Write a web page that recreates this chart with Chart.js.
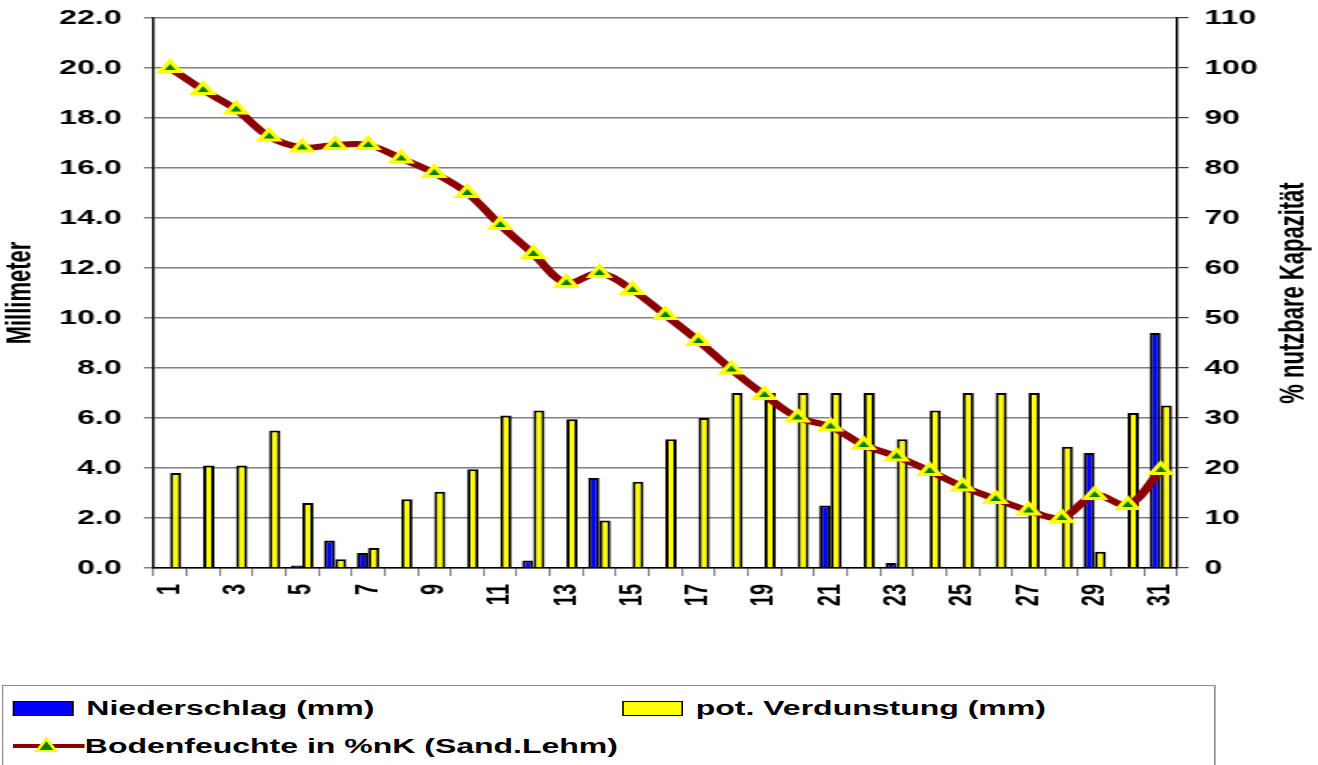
<!DOCTYPE html>
<html>
<head>
<meta charset="utf-8">
<script src="https://cdn.jsdelivr.net/npm/chart.js@4.4.1/dist/chart.umd.min.js"></script>
<style>
  html, body { margin: 0; padding: 0; background: #fff; overflow: hidden; }
  #wrap { position: relative; width: 824px; height: 765px; transform-origin: 0 0; transform: scaleX(1.5995); }
  #legend { position: absolute; left: 1px; top: 685px; width: 757px; height: 100px; border: 1px solid #8a8a8a; background: #fff;
            font-family: "Liberation Sans", Arial, sans-serif; font-weight: bold; font-size: 20px; color: #000; }
  .item { position: absolute; display: flex; align-items: center; height: 24px; white-space: nowrap; }
  .box { display: inline-block; width: 36px; height: 13px; border: 1px solid #000; margin-right: 8px; }
</style>
</head>
<body>
<div id="wrap">
  <canvas id="chartDays" width="824" height="765"></canvas>
  <div id="legend">
    <div class="item" style="left:6px; top:10px;"><span class="box" style="background:#0000ff"></span>Niederschlag (mm)</div>
    <div class="item" style="left:387px; top:10px;"><span class="box" style="background:#ffff00"></span>pot. Verdunstung (mm)</div>
    <div class="item" style="left:6px; top:48px;">
      <svg width="45" height="20">
        <line x1="0" y1="10" x2="45" y2="10" stroke="#8b0000" stroke-width="4"></line>
        <polygon points="21,3 27,15 15,15" fill="#008000" stroke="#ffff00" stroke-width="2"></polygon>
      </svg>Bodenfeuchte in %nK (Sand.Lehm)
    </div>
  </div>
</div>
<script>
const ctxDays = 'chartDays';

var dayLabels = ["1","2","3","4","5","6","7","8","9","10","11","12","13","14","15","16",
                 "17","18","19","20","21","22","23","24","25","26","27","28","29","30","31"];
var niederschlag = [0, 0, 0, 0, 0.1, 1.1, 0.6, 0, 0, 0, 0, 0.3, 0, 3.6, 0, 0,
                    0, 0, 0, 0, 2.5, 0, 0.2, 0, 0, 0, 0, 0, 4.6, 0, 9.4];
var verdunstung = [3.8, 4.1, 4.1, 5.5, 2.6, 0.35, 0.8, 2.75, 3.05, 3.95, 6.1, 6.3, 5.95, 1.9, 3.45, 5.15,
                   6.0, 7.0, 7.0, 7.0, 7.0, 7.0, 5.15, 6.3, 7.0, 7.0, 7.0, 4.85, 0.65, 6.2, 6.5];
var bodenfeuchte = [100, 95.6, 91.7, 86.3, 84.1, 84.6, 84.6, 81.9, 79, 75, 68.6, 62.8, 57, 59, 55.6, 50.6,
                    45.4, 39.7, 34.6, 30.1, 28.3, 24.6, 22.3, 19.4, 16.3, 13.8, 11.5, 10, 14.6, 12.6, 19.6];

Chart.defaults.font.family = '"Liberation Sans", Arial, sans-serif';
Chart.defaults.color = '#000';

// right axis title reads bottom-to-top in the original
const rightTitle = {
    id: 'rightTitle',
    afterDraw(chart) {
        const area = chart.chartArea;
        const ctx = chart.ctx;
        ctx.save();
        ctx.translate(809, (area.top + area.bottom) / 2);
        ctx.rotate(-Math.PI / 2);
        ctx.font = 'bold 22px "Liberation Sans", Arial, sans-serif';
        ctx.fillStyle = '#000';
        ctx.textAlign = 'center';
        ctx.textBaseline = 'middle';
        ctx.fillText('% nutzbare Kapazität', 0, 0);
        ctx.restore();
    }
};

function noVertPadding(scale, width) {
    scale.width = width;
    scale.paddingTop = 0;
    scale.paddingBottom = 0;
}

const chartDays = new Chart(ctxDays, {
    type: 'bar',
    data: {
        labels: dayLabels,
        datasets: [{
            type: 'line',
            label: 'Bodenfeuchte in %nK (Sand.Lehm)',
            data: bodenfeuchte,
            yAxisID: 'y1',
            borderColor: '#8b0000',
            borderWidth: 6,
            tension: 0.35,
            pointStyle: 'triangle',
            pointRadius: 7,
            pointBackgroundColor: '#008000',
            pointBorderColor: '#ffff00',
            pointBorderWidth: 3,
            order: 0
        }, {
            label: 'Niederschlag (mm)',
            data: niederschlag,
            yAxisID: 'y',
            backgroundColor: '#0000ff',
            borderColor: '#000',
            borderWidth: 2,
            order: 1
        }, {
            label: 'pot. Verdunstung (mm)',
            data: verdunstung,
            yAxisID: 'y',
            backgroundColor: '#ffff00',
            borderColor: '#000',
            borderWidth: 2,
            order: 1
        }]
    },
    options: {
        responsive: false,
        animation: false,
        layout: {
            padding: { top: 18, left: 0, right: 0, bottom: 0 }
        },
        datasets: {
            bar: { categoryPercentage: 0.68, barPercentage: 1.0 }
        },
        plugins: {
            legend: { display: false },
            tooltip: { enabled: false }
        },
        scales: {
            x: {
                offset: true,
                grid: { display: true, drawOnChartArea: false, tickLength: 8, color: '#808080', lineWidth: 1.2, offset: true },
                border: { color: '#000', width: 1.5 },
                ticks: {
                    autoSkip: false,
                    minRotation: 90,
                    maxRotation: 90,
                    padding: 8,
                    font: { size: 20, weight: 'bold' },
                    callback: function (value, index) {
                        return index % 2 === 0 ? dayLabels[index] : '';
                    }
                },
                afterFit: function (scale) {
                    scale.height = 197;
                    scale.paddingLeft = 0;
                    scale.paddingRight = 0;
                }
            },
            y: {
                position: 'left',
                min: 0,
                max: 22,
                ticks: {
                    stepSize: 2,
                    padding: 14,
                    font: { size: 20, weight: 'bold' },
                    callback: function (value) { return value.toFixed(1); }
                },
                grid: { color: '#808080', lineWidth: 1.5, tickLength: 6 },
                border: { color: '#000', width: 1.5 },
                title: {
                    display: true,
                    text: 'Millimeter',
                    font: { size: 22, weight: 'bold' },
                    padding: 0
                },
                afterFit: function (scale) { noVertPadding(scale, 96); }
            },
            y1: {
                position: 'right',
                min: 0,
                max: 110,
                ticks: {
                    stepSize: 10,
                    padding: 10,
                    font: { size: 20, weight: 'bold' }
                },
                grid: { drawOnChartArea: false, color: '#404040', lineWidth: 1.2, tickLength: 7 },
                border: { color: '#000', width: 1.5 },
                afterFit: function (scale) { noVertPadding(scale, 88); }
            }
        }
    },
    plugins: [rightTitle]
});
</script>
</body>
</html>
